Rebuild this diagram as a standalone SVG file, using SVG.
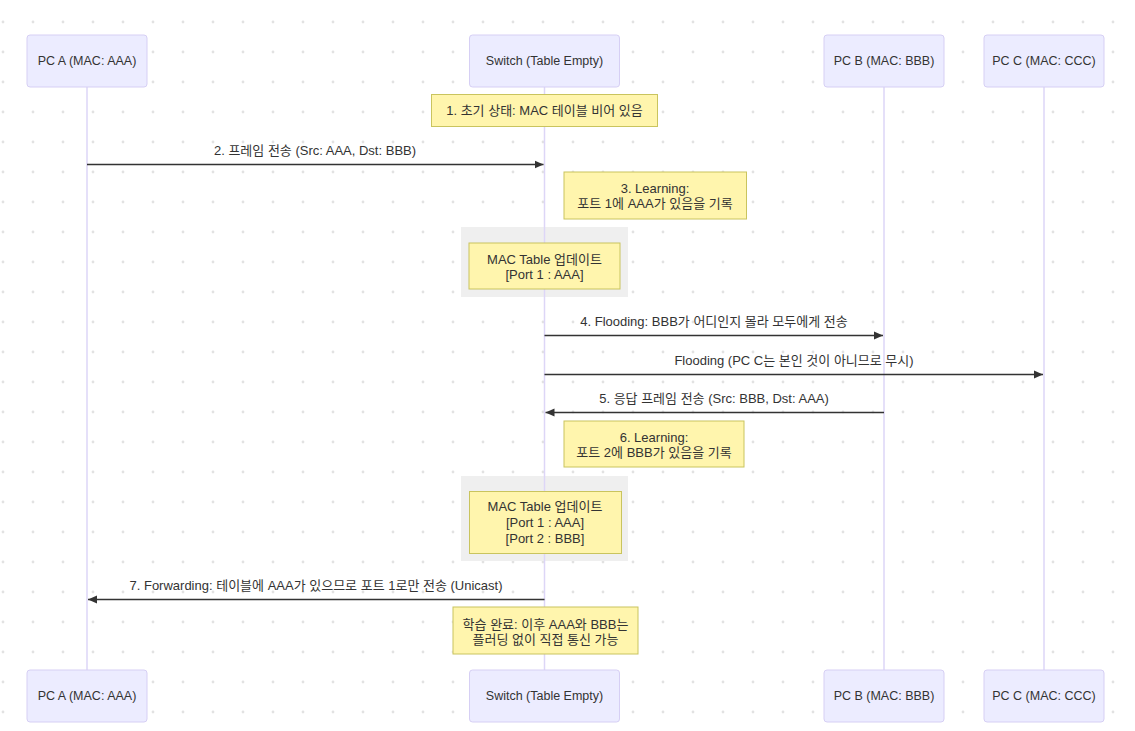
<svg xmlns="http://www.w3.org/2000/svg" width="1135" height="731" viewBox="0 0 1135 731">
<style>
text{font-family:"Liberation Sans","Noto Sans CJK KR",sans-serif;font-size:13px;fill:#333;text-anchor:middle;dominant-baseline:central}
.actor rect{fill:#ececff;stroke:#d6cff4;stroke-width:1}
.actor text{font-size:12.5px}
.life{stroke:#ddd6f7;stroke-width:1.5}
.note rect{fill:#fff5ad;stroke:#c9c45e;stroke-width:1}
.blk{fill:#efefef}
.msg{stroke:#333;stroke-width:1.5;fill:none;marker-end:url(#arr)}
</style>
<defs>
<pattern id="dots" patternUnits="userSpaceOnUse" x="-12" y="7" width="30" height="30">
<circle cx="15" cy="15" r="1.4" fill="#e2e2e2"/>
</pattern>
<marker id="arr" markerUnits="userSpaceOnUse" viewBox="0 0 10 10" refX="10" refY="5" markerWidth="9" markerHeight="9" orient="auto">
<path d="M0,0.5 L10,5 L0,9.5 z" fill="#333"/>
</marker>
</defs>
<rect width="1135" height="731" fill="#fff"/>
<rect width="1135" height="731" fill="url(#dots)"/>
<g id="blocks">
<rect class="blk" x="461" y="227" width="167" height="70"/>
<rect class="blk" x="461" y="476" width="167" height="85"/>
</g>
<g id="lifelines">
<line class="life" x1="87" y1="87" x2="87" y2="670"/>
<line class="life" x1="544.5" y1="87" x2="544.5" y2="670"/>
<line class="life" x1="884" y1="87" x2="884" y2="670"/>
<line class="life" x1="1044" y1="87" x2="1044" y2="670"/>
</g>
<g id="actorA" class="actor">
<rect x="27" y="35" width="120" height="52" rx="3"/><text x="87" y="61">PC A (MAC: AAA)</text>
<rect x="27" y="670" width="120" height="52" rx="3"/><text x="87" y="696">PC A (MAC: AAA)</text>
</g>
<g id="actorSwitch" class="actor">
<rect x="469.5" y="35" width="150" height="52" rx="3"/><text x="544.5" y="61">Switch (Table Empty)</text>
<rect x="469.5" y="670" width="150" height="52" rx="3"/><text x="544.5" y="696">Switch (Table Empty)</text>
</g>
<g id="actorB" class="actor">
<rect x="824" y="35" width="120" height="52" rx="3"/><text x="884" y="61">PC B (MAC: BBB)</text>
<rect x="824" y="670" width="120" height="52" rx="3"/><text x="884" y="696">PC B (MAC: BBB)</text>
</g>
<g id="actorC" class="actor">
<rect x="984" y="35" width="120" height="52" rx="3"/><text x="1044" y="61">PC C (MAC: CCC)</text>
<rect x="984" y="670" width="120" height="52" rx="3"/><text x="1044" y="696">PC C (MAC: CCC)</text>
</g>
<g id="note1" class="note">
<rect x="431.5" y="94.5" width="226" height="32"/><text x="544.5" y="110.5">1. 초기 상태: MAC 테이블 비어 있음</text>
</g>
<g id="note3" class="note">
<rect x="564" y="172" width="182.5" height="47"/><text x="655" y="188">3. Learning:</text><text x="655" y="203">포트 1에 AAA가 있음을 기록</text>
</g>
<g id="noteTable1" class="note">
<rect x="469" y="243" width="151" height="46"/><text x="544.5" y="259">MAC Table 업데이트</text><text x="544.5" y="274">[Port 1 : AAA]</text>
</g>
<g id="note6" class="note">
<rect x="564" y="421" width="180" height="46"/><text x="654" y="437">6. Learning:</text><text x="654" y="452">포트 2에 BBB가 있음을 기록</text>
</g>
<g id="noteTable2" class="note">
<rect x="469.5" y="491.5" width="152" height="62"/><text x="545" y="506">MAC Table 업데이트</text><text x="545" y="522">[Port 1 : AAA]</text><text x="545" y="538">[Port 2 : BBB]</text>
</g>
<g id="noteFinal" class="note">
<rect x="453" y="607" width="185" height="47"/><text x="545.5" y="624">학습 완료: 이후 AAA와 BBB는</text><text x="545.5" y="639">플러딩 없이 직접 통신 가능</text>
</g>
<g id="connectors">
<line class="msg" x1="87" y1="164.5" x2="543.5" y2="164.5"/>
<text x="315" y="150">2. 프레임 전송 (Src: AAA, Dst: BBB)</text>
<line class="msg" x1="544.5" y1="335.5" x2="883" y2="335.5"/>
<text x="714" y="321.5">4. Flooding: BBB가 어디인지 몰라 모두에게 전송</text>
<line class="msg" x1="544.5" y1="374.5" x2="1043" y2="374.5"/>
<text x="794" y="360">Flooding (PC C는 본인 것이 아니므로 무시)</text>
<line class="msg" x1="884" y1="412.5" x2="545.5" y2="412.5"/>
<text x="714" y="398">5. 응답 프레임 전송 (Src: BBB, Dst: AAA)</text>
<line class="msg" x1="544.5" y1="599.5" x2="88" y2="599.5"/>
<text x="316" y="585">7. Forwarding: 테이블에 AAA가 있으므로 포트 1로만 전송 (Unicast)</text>
</g>
</svg>
